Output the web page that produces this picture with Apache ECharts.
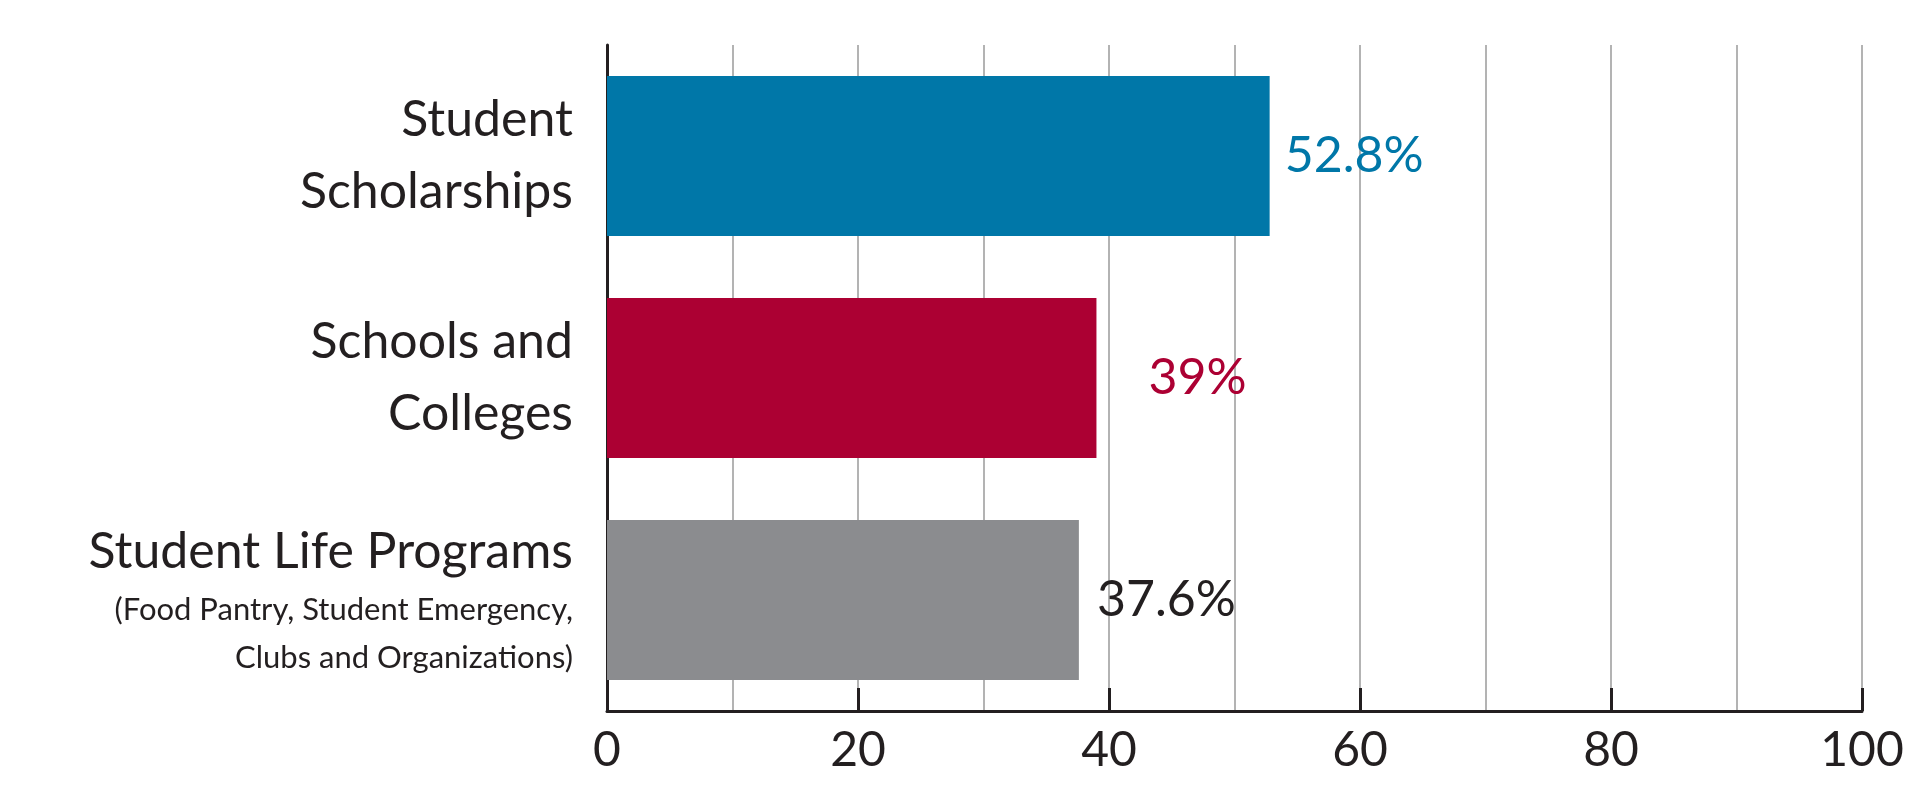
<!DOCTYPE html>
<html>
<head>
<meta charset="utf-8">
<script src="https://cdn.jsdelivr.net/npm/echarts@6/dist/echarts.min.js"></script>
<style>html,body{margin:0;background:#fff}#c{width:1920px;height:789px}</style>
</head>
<body>
<div id="c"></div>
<script>
const categories = ['Student\nScholarships', 'Schools and\nColleges', 'Student Life Programs'];
const values = [52.8, 39, 37.6];
const barColors = ['#0077a8', '#ac0033', '#8b8c8f'];
const labelColors = ['#0077a8', '#ac0033', '#231f20'];
const labelGaps = [15, 52, 18];
const xTicks = [0, 20, 40, 60, 80, 100];

const FONT = 'Lato, "Open Sans", sans-serif';
const chart = echarts.init(document.getElementById('c'));

chart.setOption({
    animation: false,
    textStyle: { fontFamily: FONT },
    grid: { left: 607, right: 58, top: 45, bottom: 78 },
    xAxis: {
        type: 'value',
        min: 0,
        max: 100,
        interval: 10,
        axisLine: { show: true, lineStyle: { color: '#231f20', width: 3 } },
        axisTick: { show: false },
        splitLine: { show: true, lineStyle: { color: '#9a9a9a', width: 1.5 } },
        axisLabel: {
            color: '#231f20',
            fontSize: 48,
            margin: 16,
            formatter: v => xTicks.includes(v) ? String(v) : ''
        }
    },
    yAxis: {
        type: 'category',
        inverse: true,
        data: categories,
        axisLine: { show: true, lineStyle: { color: '#231f20', width: 3 } },
        axisTick: { show: false },
        axisLabel: {
            color: '#231f20',
            fontSize: 50,
            lineHeight: 72,
            margin: 34,
            align: 'right',
            formatter: (v, i) => i === 2
                ? '{a|Student Life Programs}\n{b|(Food Pantry, Student Emergency,}\n{b|Clubs and Organizations)}'
                : v,
            rich: {
                a: { fontSize: 50, lineHeight: 68, color: '#231f20', fontFamily: FONT },
                b: { fontSize: 31, lineHeight: 48, color: '#231f20', fontFamily: FONT }
            }
        }
    },
    series: [{
        type: 'bar',
        barWidth: 160,
        data: values.map((v, i) => ({
            value: v,
            itemStyle: { color: barColors[i] },
            label: { color: labelColors[i], distance: labelGaps[i] }
        })),
        label: {
            show: true,
            position: 'right',
            fontSize: 50,
            formatter: p => p.value + '%'
        },
        markLine: {
            silent: true,
            symbol: 'none',
            label: { show: false },
            lineStyle: { color: '#231f20', width: 3, type: 'solid' },
            data: xTicks.map(t => [
                { coord: [t, 2], y: 711 },
                { coord: [t, 2], y: 688 }
            ])
        }
    }]
});
</script>
</body>
</html>
